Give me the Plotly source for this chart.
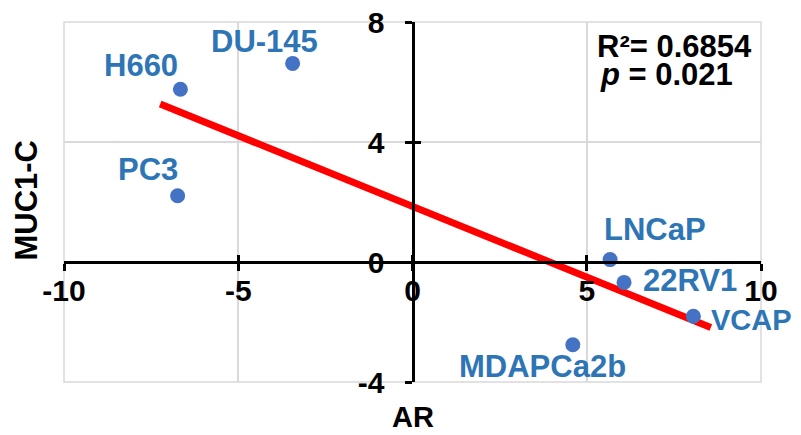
import numpy as np
import plotly.graph_objects as go

# ---- data ----
cell_lines = ["H660", "DU-145", "PC3", "LNCaP", "22RV1", "VCAP", "MDAPCa2b"]
ar_values = [-6.66, -3.44, -6.74, 5.67, 6.07, 8.06, 4.60]
muc1c_values = [5.76, 6.62, 2.21, 0.08, -0.68, -1.81, -2.76]
x_ticks = [-10, -5, 0, 5, 10]
x_tick_labels = ["-10", "-5", "0", "5", "10"]
y_ticks = [-4, 0, 4, 8]
y_tick_labels = ["-4", "0", "4", "8"]
stats_r2 = "R²= 0.6854"
stats_p = "<i>p</i> = 0.021"
x_title = "AR"
y_title = "MUC1-C"

# label placement styles (pixel offsets relative to each point)
label_style = {
    "H660":     dict(xanchor="right",  yanchor="middle", xshift=0,  yshift=24, size=31),
    "DU-145":   dict(xanchor="center", yanchor="middle", xshift=-28, yshift=22, size=31),
    "PC3":      dict(xanchor="center", yanchor="middle", xshift=-30, yshift=26, size=31),
    "LNCaP":    dict(xanchor="center", yanchor="middle", xshift=45, yshift=30, size=31),
    "22RV1":    dict(xanchor="left",   yanchor="middle", xshift=17, yshift=2, size=31),
    "VCAP":     dict(xanchor="left",   yanchor="middle", xshift=16, yshift=-4, size=29),
    "MDAPCa2b": dict(xanchor="center", yanchor="middle", xshift=-30, yshift=-22, size=31),
}

FONT = "Liberation Sans, Arial, sans-serif"
x_range = [-10, 10]
y_range = [-4, 8]

# regression trendline
slope, intercept = np.polyfit(ar_values, muc1c_values, 1)
tx = np.array([min(ar_values) - 0.5, max(ar_values) + 0.5])
ty = slope * tx + intercept

fig = go.Figure()
fig.add_trace(go.Scatter(x=tx, y=ty, mode="lines",
                         line=dict(color="#FF0000", width=7),
                         hoverinfo="skip", showlegend=False))
fig.add_trace(go.Scatter(x=ar_values, y=muc1c_values, mode="markers",
                         marker=dict(color="#4472C4", size=15),
                         showlegend=False))
# dummy trace to draw inner tick marks
fig.add_trace(go.Scatter(x=[None], y=[None], xaxis="x2", yaxis="y2",
                         showlegend=False, hoverinfo="skip"))

for name, xv, yv in zip(cell_lines, ar_values, muc1c_values):
    st = dict(label_style[name])
    fs = st.pop("size")
    fig.add_annotation(x=xv, y=yv, xref="x", yref="y", text=name,
                       showarrow=False,
                       font=dict(family=FONT, size=fs, color="#2E75B6", weight="bold"),
                       **st)

x_pos = (0 - y_range[0]) / (y_range[1] - y_range[0])
y_pos = (0 - x_range[0]) / (x_range[1] - x_range[0])

tickfont = dict(family=FONT, size=30, color="black", weight="bold")
common_x = dict(range=x_range, tickvals=x_ticks, ticktext=x_tick_labels,
                anchor="free", position=x_pos, automargin=False,
                ticklen=7, tickwidth=3, tickcolor="black")
common_y = dict(range=y_range, tickvals=y_ticks, ticktext=y_tick_labels,
                anchor="free", position=y_pos, automargin=False,
                ticklen=7, tickwidth=3, tickcolor="black")

fig.update_layout(
    width=785, height=419,
    margin=dict(l=56, r=32, t=14, b=44.5, autoexpand=False),
    plot_bgcolor="white", paper_bgcolor="white",
    xaxis=dict(**common_x, ticks="outside", showline=True, linecolor="black",
               linewidth=3, showgrid=True, gridcolor="#d9d9d9", gridwidth=1.5,
               zeroline=False, tickfont=tickfont, ticklabelstandoff=-6,
               ticklabeloverflow="allow"),
    yaxis=dict(**common_y, ticks="outside", showline=True, linecolor="black",
               linewidth=3, showgrid=True, gridcolor="#d9d9d9", gridwidth=1.5,
               zeroline=False, tickfont=tickfont, ticklabelstandoff=14,
               ticklabeloverflow="allow"),
    xaxis2=dict(**common_x, overlaying="x", ticks="inside", showticklabels=False,
                showgrid=False, zeroline=False, showline=False),
    yaxis2=dict(**common_y, overlaying="y", ticks="inside", showticklabels=False,
                showgrid=False, zeroline=False, showline=False),
    showlegend=False,
)

# plot area border (gridlines at range ends)
fig.add_shape(type="rect", xref="x domain", yref="y domain", x0=0, x1=1, y0=0, y1=1,
              line=dict(color="#d9d9d9", width=1.5), layer="below")

fig.add_annotation(xref="paper", yref="paper", x=0.989, y=0.933, text=stats_r2,
                   showarrow=False, xanchor="right", yanchor="middle", bgcolor="white",
                   borderpad=0,
                   font=dict(family=FONT, size=31, color="black", weight="bold"))
fig.add_annotation(xref="paper", yref="paper", x=0.768, y=0.853, text=stats_p,
                   showarrow=False, xanchor="left", yanchor="middle", borderpad=0,
                   font=dict(family=FONT, size=31, color="black", weight="bold"))

fig.add_annotation(xref="paper", yref="paper", x=0.5, y=-0.097, text=x_title,
                   showarrow=False, xanchor="center", yanchor="middle",
                   font=dict(family=FONT, size=29, color="black", weight="bold"))
fig.add_annotation(xref="paper", yref="paper", x=-0.054, y=0.505, text=y_title,
                   showarrow=False, xanchor="center", yanchor="middle", textangle=-90,
                   font=dict(family=FONT, size=31, color="black", weight="bold"))

fig.write_html("out.html")
